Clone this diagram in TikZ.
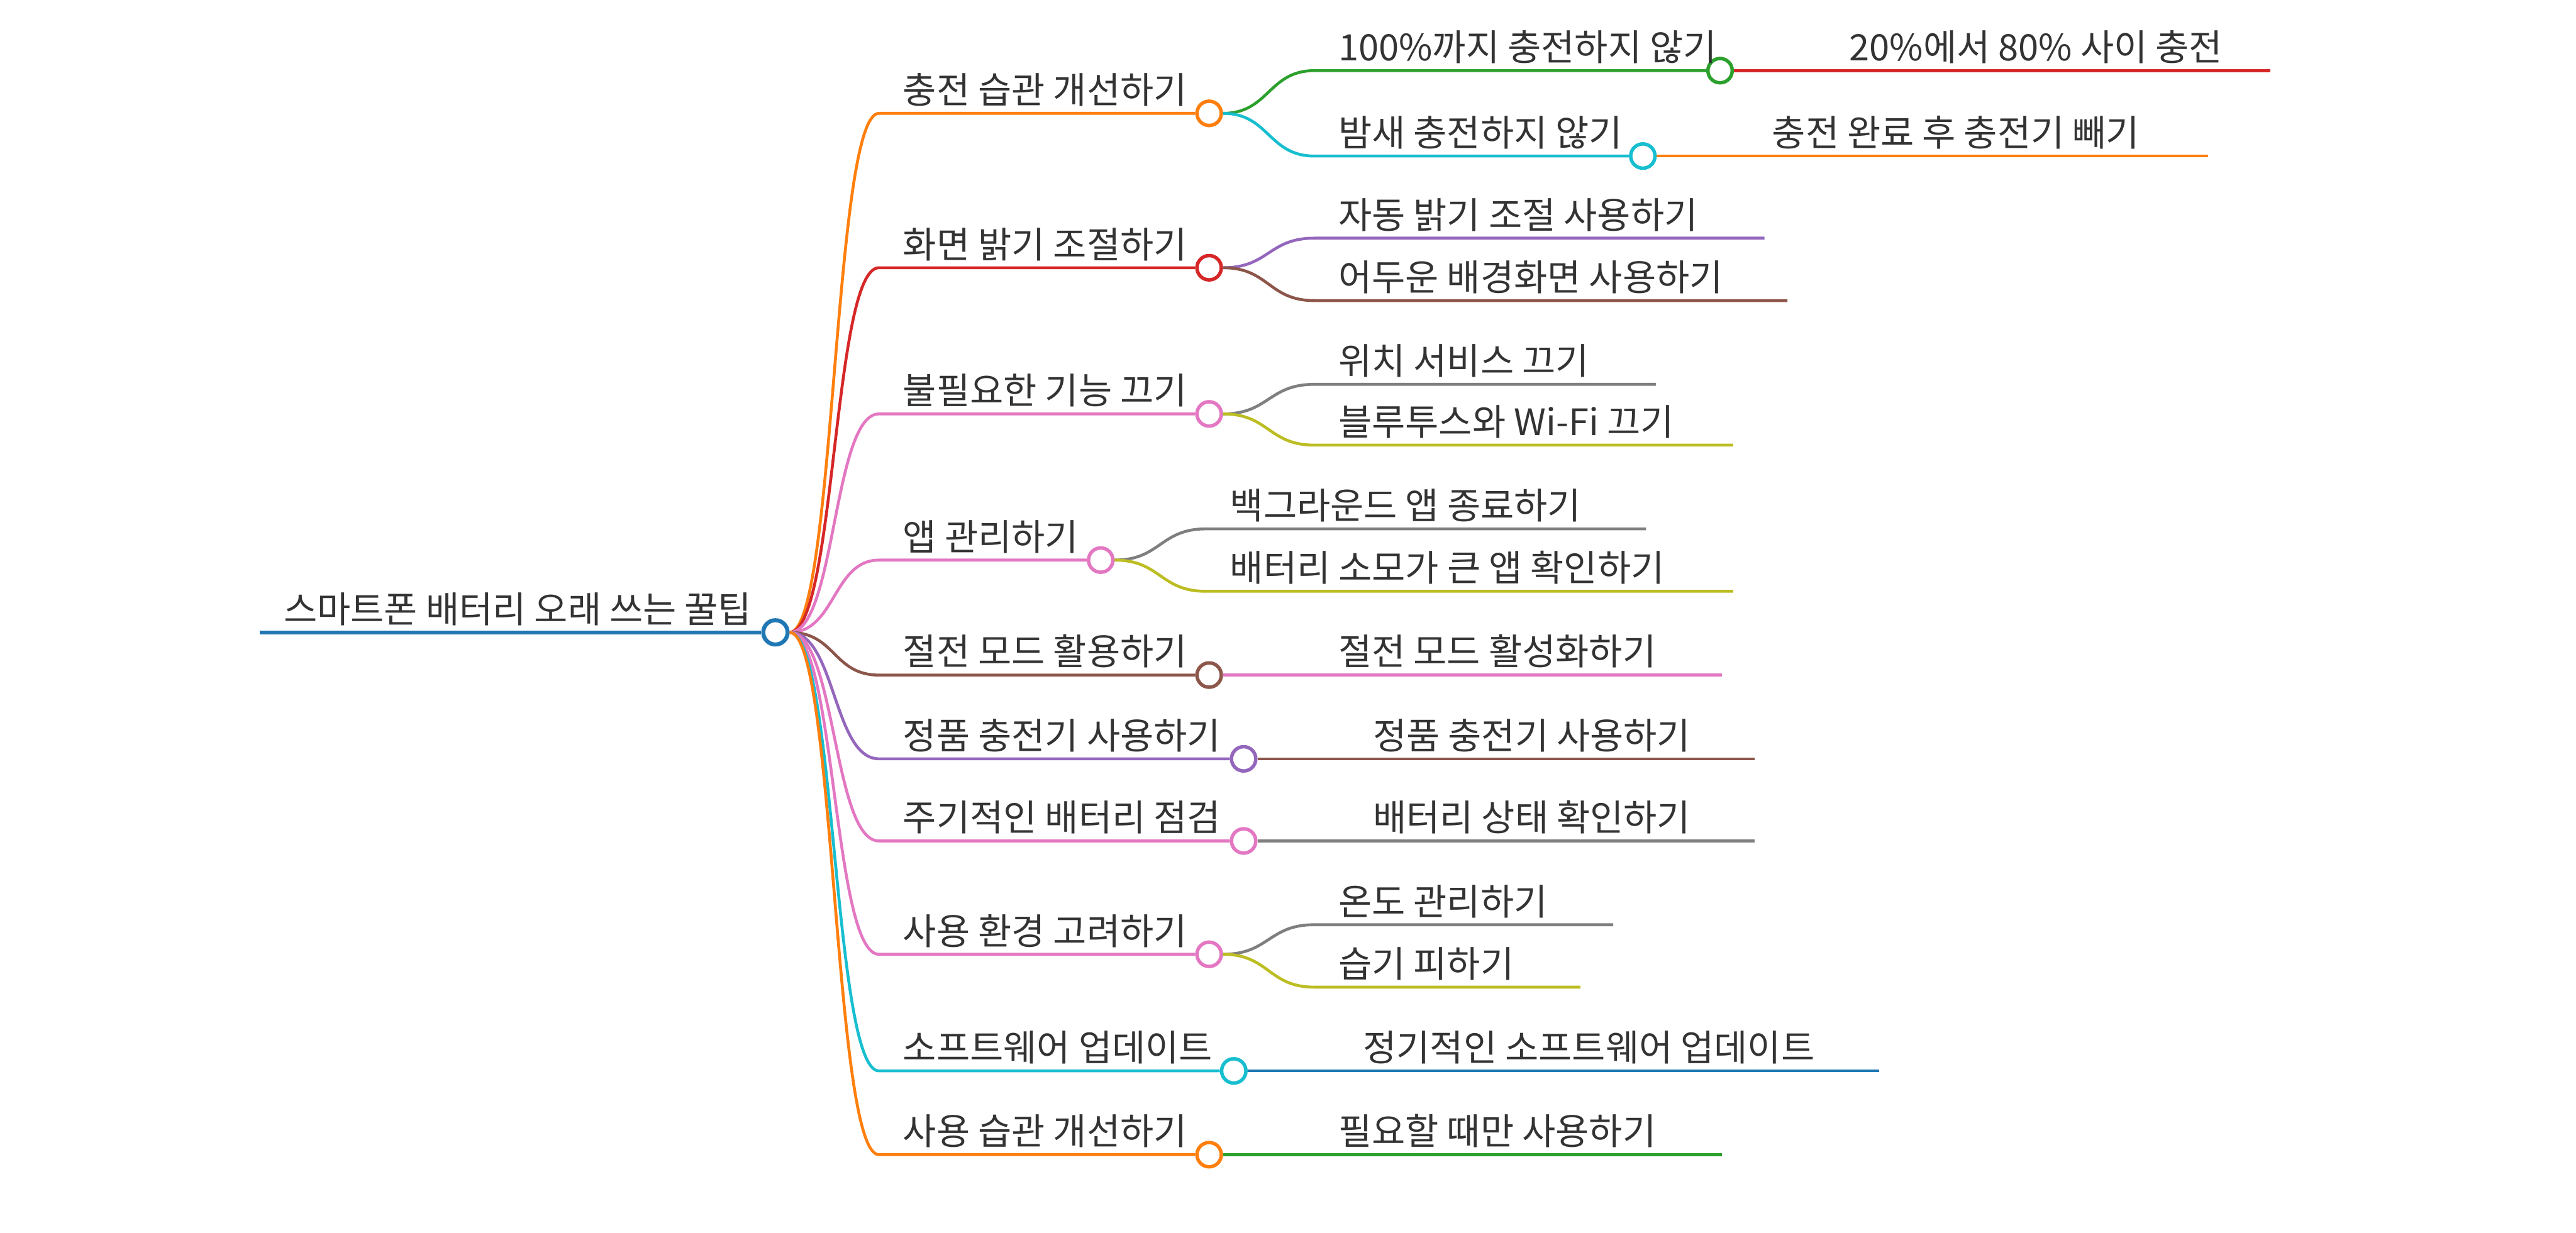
\documentclass[tikz,border=0pt]{standalone}
\usepackage{fontspec}
\newfontfamily\kr{Noto Sans CJK KR}
\definecolor{cblue}{HTML}{1F77B4}
\definecolor{corange}{HTML}{FF7F0E}
\definecolor{cgreen}{HTML}{2CA02C}
\definecolor{cred}{HTML}{D62728}
\definecolor{cpurple}{HTML}{9467BD}
\definecolor{cbrown}{HTML}{8C564B}
\definecolor{cpink}{HTML}{E377C2}
\definecolor{cgray}{HTML}{7F7F7F}
\definecolor{colive}{HTML}{BCBD22}
\definecolor{ccyan}{HTML}{17BECF}
\definecolor{tgray}{HTML}{333333}
\begin{document}
\begin{tikzpicture}[x=0.01cm,y=-0.01cm,
  lk/.style={line width=0.5pt},
  dot/.style={circle,draw,fill=white,line width=0.6pt,minimum size=0.148cm,inner sep=0},
  txt/.style={anchor=base west,inner sep=0,text=tgray,font=\kr\fontsize{6.3pt}{7pt}\selectfont},
  cv/.style={to path={.. controls +(28,0) and +(-28,0) .. (\tikztotarget)}}]
\useasboundingbox (0,0) rectangle (1568,750.4);
% root
\coordinate (r0) at (158,385);
\node[dot,draw=cblue,line width=0.7pt] (root) at (472,385) {};
\node[txt] (rootT) at (172,379) {스마트폰 배터리 오래 쓰는 꿀팁};
\draw[cblue,line width=0.7pt] (r0) -- (root.west);
% level 1 circles
\node[dot,draw=corange] (c1) at (736,69) {};
\node[dot,draw=cred] (c2) at (736,163) {};
\node[dot,draw=cpink] (c3) at (736,252) {};
\node[dot,draw=cpink] (c4) at (670,341) {};
\node[dot,draw=cbrown] (c5) at (736,411) {};
\node[dot,draw=cpurple] (c6) at (757,462) {};
\node[dot,draw=cpink] (c7) at (757,512) {};
\node[dot,draw=cpink] (c8) at (736,581) {};
\node[dot,draw=ccyan] (c9) at (751,652) {};
\node[dot,draw=corange] (c10) at (736,703) {};
% level 1 line starts
\coordinate (s1) at (535,69);
\coordinate (s2) at (535,163);
\coordinate (s3) at (535,252);
\coordinate (s4) at (535,341);
\coordinate (s5) at (535,411);
\coordinate (s6) at (535,462);
\coordinate (s7) at (535,512);
\coordinate (s8) at (535,581);
\coordinate (s9) at (535,652);
\coordinate (s10) at (535,703);
% level 1 texts
\node[txt] (t1) at (549,63) {충전 습관 개선하기};
\node[txt] (t2) at (549,157) {화면 밝기 조절하기};
\node[txt] (t3) at (549,246) {불필요한 기능 끄기};
\node[txt] (t4) at (549,335) {앱 관리하기};
\node[txt] (t5) at (549,405) {절전 모드 활용하기};
\node[txt] (t6) at (549,456) {정품 충전기 사용하기};
\node[txt] (t7) at (549,506) {주기적인 배터리 점검};
\node[txt] (t8) at (549,575) {사용 환경 고려하기};
\node[txt] (t9) at (549,646) {소프트웨어 업데이트};
\node[txt] (t10) at (549,697) {사용 습관 개선하기};
% level 1 links
\draw[lk,corange] (root.east) to[cv] (s1) -- (c1.west);
\draw[lk,cred] (root.east) to[cv] (s2) -- (c2.west);
\draw[lk,cpink] (root.east) to[cv] (s3) -- (c3.west);
\draw[lk,cpink] (root.east) to[cv] (s4) -- (c4.west);
\draw[lk,cbrown] (root.east) to[cv] (s5) -- (c5.west);
\draw[lk,cpurple] (root.east) to[cv] (s6) -- (c6.west);
\draw[lk,cpink] (root.east) to[cv] (s7) -- (c7.west);
\draw[lk,cpink] (root.east) to[cv] (s8) -- (c8.west);
\draw[lk,ccyan] (root.east) to[cv] (s9) -- (c9.west);
\draw[lk,corange] (root.east) to[cv] (s10) -- (c10.west);
% ---- branch 1
\node[dot,draw=cgreen] (c1a) at (1047,43) {};
\node[dot,draw=ccyan] (c1b) at (1000,95) {};
\coordinate (s1a) at (800,43);
\coordinate (s1b) at (800,95);
\node[txt] (t1a) at (814,37) {100\%까지 충전하지 않기};
\node[txt] (t1b) at (814,89) {밤새 충전하지 않기};
\draw[lk,cgreen] (c1.east) to[cv] (s1a) -- (c1a.west);
\draw[lk,ccyan] (c1.east) to[cv] (s1b) -- (c1b.west);
\coordinate (s1a1) at (1111,43); \coordinate (e1a1) at (1382,43);
\node[txt] (t1a1) at (1125,37) {20\%에서 80\% 사이 충전};
\draw[lk,cred] (c1a.east) -- (s1a1) -- (e1a1);
\coordinate (s1b1) at (1064,95); \coordinate (e1b1) at (1344,95);
\node[txt] (t1b1) at (1078,89) {충전 완료 후 충전기 빼기};
\draw[lk,corange] (c1b.east) -- (s1b1) -- (e1b1);
% ---- branch 2
\coordinate (s2a) at (800,145); \coordinate (e2a) at (1074,145);
\coordinate (s2b) at (800,183); \coordinate (e2b) at (1088,183);
\node[txt] (t2a) at (814,139) {자동 밝기 조절 사용하기};
\node[txt] (t2b) at (814,177) {어두운 배경화면 사용하기};
\draw[lk,cpurple] (c2.east) to[cv] (s2a) -- (e2a);
\draw[lk,cbrown] (c2.east) to[cv] (s2b) -- (e2b);
% ---- branch 3
\coordinate (s3a) at (800,234); \coordinate (e3a) at (1008,234);
\coordinate (s3b) at (800,271); \coordinate (e3b) at (1055,271);
\node[txt] (t3a) at (814,228) {위치 서비스 끄기};
\node[txt] (t3b) at (814,265) {블루투스와 Wi-Fi 끄기};
\draw[lk,cgray] (c3.east) to[cv] (s3a) -- (e3a);
\draw[lk,colive] (c3.east) to[cv] (s3b) -- (e3b);
% ---- branch 4
\coordinate (s4a) at (734,322); \coordinate (e4a) at (1002,322);
\coordinate (s4b) at (734,360); \coordinate (e4b) at (1055,360);
\node[txt] (t4a) at (748,316) {백그라운드 앱 종료하기};
\node[txt] (t4b) at (748,354) {배터리 소모가 큰 앱 확인하기};
\draw[lk,cgray] (c4.east) to[cv] (s4a) -- (e4a);
\draw[lk,colive] (c4.east) to[cv] (s4b) -- (e4b);
% ---- branch 5
\coordinate (s5a) at (800,411); \coordinate (e5a) at (1048,411);
\node[txt] (t5a) at (814,405) {절전 모드 활성화하기};
\draw[lk,cpink] (c5.east) -- (s5a) -- (e5a);
% ---- branch 6
\coordinate (s6a) at (821,462); \coordinate (e6a) at (1068,462);
\node[txt] (t6a) at (835,456) {정품 충전기 사용하기};
\draw[lk,cbrown] (c6.east) -- (s6a) -- (e6a);
% ---- branch 7
\coordinate (s7a) at (821,512); \coordinate (e7a) at (1068,512);
\node[txt] (t7a) at (835,506) {배터리 상태 확인하기};
\draw[lk,cgray] (c7.east) -- (s7a) -- (e7a);
% ---- branch 8
\coordinate (s8a) at (800,563); \coordinate (e8a) at (982,563);
\coordinate (s8b) at (800,601); \coordinate (e8b) at (962,601);
\node[txt] (t8a) at (814,557) {온도 관리하기};
\node[txt] (t8b) at (814,595) {습기 피하기};
\draw[lk,cgray] (c8.east) to[cv] (s8a) -- (e8a);
\draw[lk,colive] (c8.east) to[cv] (s8b) -- (e8b);
% ---- branch 9
\coordinate (s9a) at (815,652); \coordinate (e9a) at (1144,652);
\node[txt] (t9a) at (829,646) {정기적인 소프트웨어 업데이트};
\draw[lk,cblue] (c9.east) -- (s9a) -- (e9a);
% ---- branch 10
\coordinate (s10a) at (800,703); \coordinate (e10a) at (1048,703);
\node[txt] (t10a) at (814,697) {필요할 때만 사용하기};
\draw[lk,cgreen] (c10.east) -- (s10a) -- (e10a);
\end{tikzpicture}
\end{document}
